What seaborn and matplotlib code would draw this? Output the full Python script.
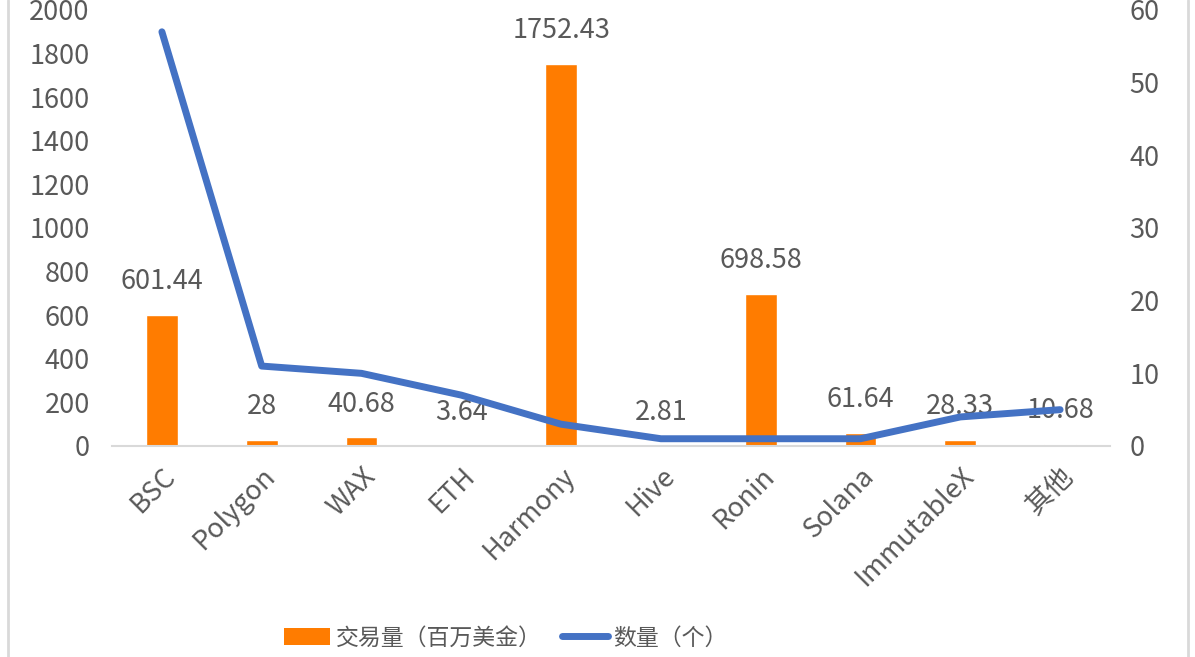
import numpy as np
import matplotlib
matplotlib.use('Agg')
import matplotlib.pyplot as plt
import seaborn as sns
from matplotlib.patches import Patch
from matplotlib.lines import Line2D

# chart data
chains = ['BSC', 'Polygon', 'WAX', 'ETH', 'Harmony', 'Hive', 'Ronin', 'Solana', 'ImmutableX', '其他']
volume = [601.44, 28, 40.68, 3.64, 1752.43, 2.81, 698.58, 61.64, 28.33, 10.68]
count = [57, 11, 10, 7, 3, 1, 1, 1, 4, 5]
left_ticks = list(range(0, 2001, 200))
right_ticks = list(range(0, 61, 10))

orange = '#FF7C00'
blue = '#4472C4'
grey = '#595959'

sns.set_theme(style='white')
plt.rcParams['font.family'] = ['Noto Sans CJK SC', 'DejaVu Sans']

fig = plt.figure(figsize=(11.95, 6.57), dpi=100)
ax = fig.add_axes([112 / 1195, 1 - 446 / 657, 998 / 1195, 436 / 657])

sns.barplot(x=chains, y=volume, color=orange, width=0.32, saturation=1, ax=ax)
ax.set_ylim(0, 2000)
ax.set_yticks(left_ticks)
ax.set_xlim(-0.5, len(chains) - 0.5)
ax.tick_params(axis='y', labelsize=19.5, labelcolor=grey, length=0, pad=16)
ax.tick_params(axis='x', labelsize=19.5, labelcolor=grey, length=0, pad=12)
plt.setp(ax.get_xticklabels(), rotation=45, ha='right', rotation_mode='anchor')
ax.set_xlabel('')
ax.set_ylabel('')
for s in ['top', 'left', 'right']:
    ax.spines[s].set_visible(False)
ax.spines['bottom'].set_color('#D9D9D9')
ax.spines['bottom'].set_linewidth(1.5)

# bar value labels
for i, v in enumerate(volume):
    ax.annotate(f'{v:g}', (i, v), xytext=(0, 33), textcoords='offset pixels',
                ha='center', va='center', fontsize=19.5, color=grey)

ax2 = ax.twinx()
sns.lineplot(x=chains, y=count, color=blue, linewidth=5, sort=False, ax=ax2,
             solid_capstyle='round', solid_joinstyle='round')
ax2.set_ylim(0, 60)
ax2.set_yticks(right_ticks)
ax2.tick_params(axis='y', labelsize=19.5, labelcolor=grey, length=0, pad=14)
ax2.set_ylabel('')
for s in ax2.spines.values():
    s.set_visible(False)
ax2.grid(False)
ax.grid(False)

# chart frame sides
fig.add_artist(Line2D([8 / 1195, 8 / 1195], [0, 1], color='#D9D9D9', lw=2))
fig.add_artist(Line2D([1188 / 1195, 1188 / 1195], [0, 1], color='#D9D9D9', lw=2))

handles = [Patch(facecolor=orange, edgecolor='none'),
           Line2D([0], [0], color=blue, lw=5, solid_capstyle='round')]
fig.legend(handles, ['交易量（百万美金）', '数量（个）'], loc='center',
           bbox_to_anchor=(506 / 1195, 1 - 638 / 657), ncol=2, frameon=False,
           fontsize=16.5, labelcolor=grey, handlelength=2.0, handleheight=0.7,
           handletextpad=0.25, columnspacing=0.9)

fig.savefig('out.png', dpi=100)
